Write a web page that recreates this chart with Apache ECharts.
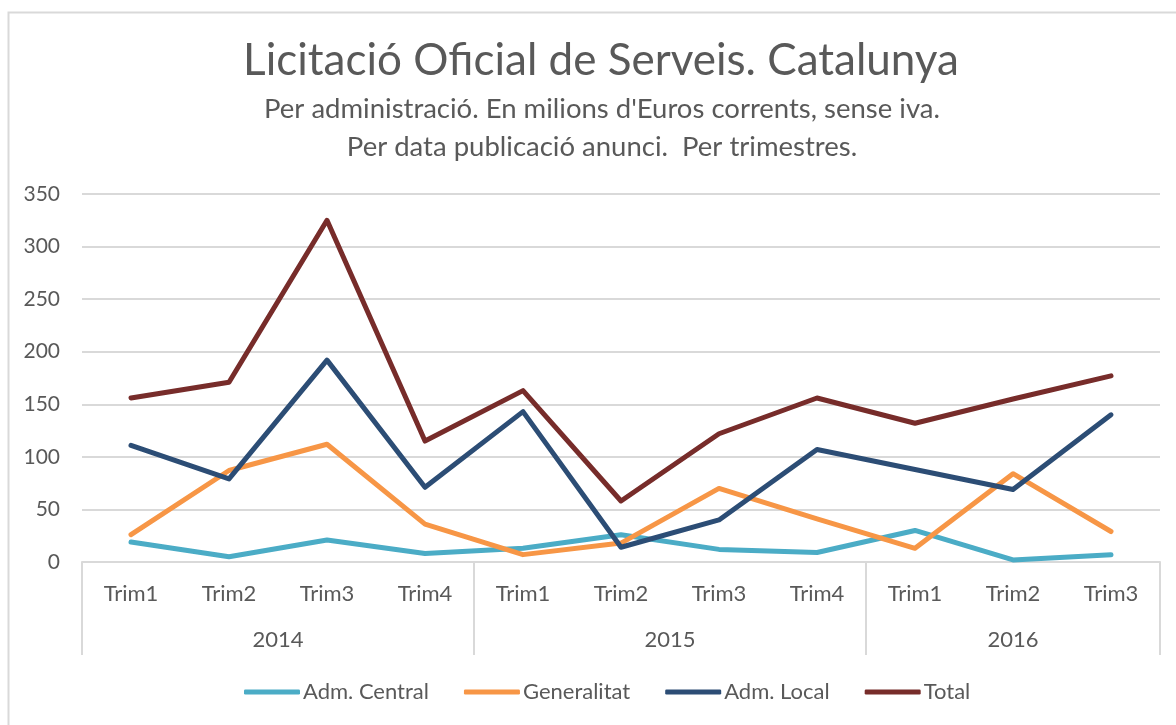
<!DOCTYPE html>
<html>
<head>
<meta charset="utf-8">
<script src="https://cdn.jsdelivr.net/npm/echarts@6/dist/echarts.min.js"></script>
<style>
  html, body { margin: 0; padding: 0; background: #fff; }
  #chart { width: 1176px; height: 725px; }
</style>
</head>
<body>
<div id="chart"></div>
<script>
const trimLabels = ['Trim1', 'Trim2', 'Trim3', 'Trim4', 'Trim1', 'Trim2', 'Trim3', 'Trim4', 'Trim1', 'Trim2', 'Trim3'];
const yearLabels = ['2014', '2015', '2016'];
const yearCounts = [4, 4, 3];

const admCentral = [19, 5, 21, 8, 13, 26, 12, 9, 30, 2, 7];
const generalitat = [26, 87, 112, 36, 7, 18, 70, 41, 13, 84, 29];
const admLocal = [111, 79, 192, 71, 143, 14, 40, 107, 88, 69, 140];
const total = [156, 171, 325, 115, 163, 58, 122, 156, 132, 155, 177];

const textColor = '#595959';
const gridColor = '#D9D9D9';
const fontFamily = 'Lato, "Open Sans", sans-serif';

// year boundaries and centres on a 0..n scale that lines up with the category edges
const bounds = [0];
yearCounts.forEach(c => bounds.push(bounds[bounds.length - 1] + c));
const centres = yearLabels.map((y, i) => (bounds[i] + bounds[i + 1]) / 2);

const chart = echarts.init(document.getElementById('chart'), null, { renderer: 'canvas' });

function lineSeries(name, data, color) {
  return {
    name: name, type: 'line', data: data, xAxisIndex: 0,
    showSymbol: false, symbol: 'none',
    lineStyle: { color: color, width: 5, cap: 'round', join: 'round' },
    itemStyle: { color: color },
    emphasis: { disabled: true }
  };
}

const subStyle = { color: textColor, fontSize: 27.5, fontWeight: 'normal', fontFamily: fontFamily };

const option = {
  backgroundColor: '#ffffff',
  animation: false,
  graphic: [{
    type: 'rect', left: 6, top: 10, silent: true,
    shape: { width: 1400, height: 900 },
    style: { fill: 'none', stroke: gridColor, lineWidth: 2 }
  }],
  title: [
    {
      text: 'Licitació Oficial de Serveis. Catalunya',
      left: 596, top: 34, textAlign: 'center',
      textStyle: { color: textColor, fontSize: 44, fontWeight: 'normal', fontFamily: fontFamily }
    },
    { text: "Per administració. En milions d'Euros corrents, sense iva.", left: 597, top: 90, textAlign: 'center', textStyle: subStyle },
    { text: 'Per data publicació anunci.  Per trimestres.', left: 597, top: 128, textAlign: 'center', textStyle: subStyle }
  ],
  legend: {
    top: 676, left: 239,
    icon: 'roundRect', itemWidth: 56, itemHeight: 5, itemGap: 35,
    textStyle: { color: textColor, fontSize: 22, fontFamily: fontFamily, padding: [0, 0, 0, -2] },
    data: ['Adm. Central', 'Generalitat', 'Adm. Local', 'Total']
  },
  grid: { left: 82, right: 16, top: 194, bottom: 163 },
  xAxis: [
    {
      type: 'category', data: trimLabels, boundaryGap: true,
      axisLine: { lineStyle: { color: gridColor, width: 2 } },
      axisTick: { show: false },
      axisLabel: { color: textColor, fontSize: 22, margin: 21, fontFamily: fontFamily, interval: 0 },
      splitLine: { show: false }
    },
    {
      type: 'value', min: 0, max: bounds[bounds.length - 1], position: 'bottom',
      axisLine: { show: false },
      axisTick: { show: true, inside: false, length: 93, customValues: bounds, lineStyle: { color: gridColor, width: 2 } },
      axisLabel: {
        color: textColor, fontSize: 22, margin: 67, fontFamily: fontFamily,
        customValues: centres,
        formatter: v => yearLabels[centres.indexOf(v)] || ''
      },
      splitLine: { show: false }
    }
  ],
  yAxis: {
    type: 'value', min: 0, max: 350, interval: 50,
    axisLine: { show: false },
    axisTick: { show: false },
    axisLabel: { color: textColor, fontSize: 21, margin: 22, fontFamily: fontFamily },
    splitLine: { lineStyle: { color: gridColor, width: 2 } }
  },
  series: [
    lineSeries('Adm. Central', admCentral, '#4BACC6'),
    lineSeries('Generalitat', generalitat, '#F79646'),
    lineSeries('Adm. Local', admLocal, '#2C4D75'),
    lineSeries('Total', total, '#772C2A')
  ]
};

chart.setOption(option);
</script>
</body>
</html>
